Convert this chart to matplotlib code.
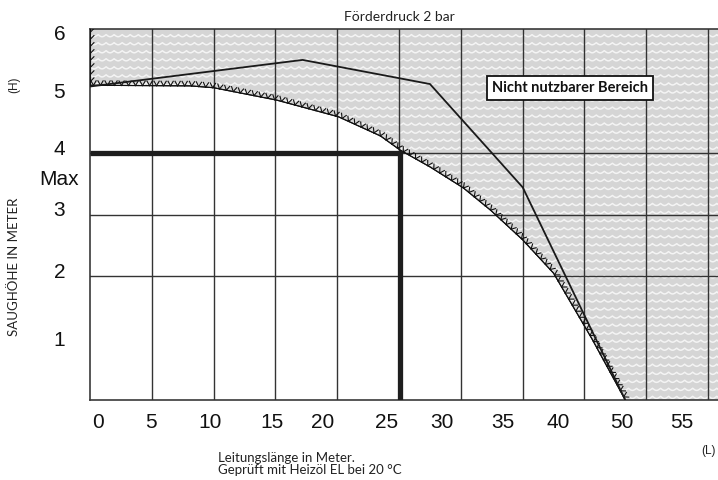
import matplotlib
matplotlib.use("Agg")
import matplotlib.pyplot as plt
import matplotlib.patheffects as pe
import numpy as np

# limit of the usable suction range (lower edge of the shaded area)
boundary_x = [0, 8.1, 10.0, 15.1, 20.1, 23.5, 25.1, 27.5, 30.2, 32.4, 35.0, 37.5, 40.6, 43.3]
boundary_y = [5.09, 5.08, 5.05, 4.85, 4.58, 4.27, 4.04, 3.77, 3.43, 3.07, 2.59, 2.05, 0.99, 0.0]

# pump curve at 2 bar supply pressure
pressure_x = [0, 17.2, 27.5, 35.0, 43.3]
pressure_y = [5.07, 5.5, 5.11, 3.44, 0.0]

# max suction height marker
max_height = 4.0
max_length = 25.1

grid_x = [5, 10, 15, 20, 25, 30, 35, 40, 45, 50]
grid_y = [1, 2, 3, 4, 5]

xtick_pos = [0.65, 4.95, 9.7, 14.7, 18.8, 24.0, 28.5, 33.4, 37.9, 43.0, 47.9]
xtick_labels = ["0", "5", "10", "15", "20", "25", "30", "35", "40", "50", "55"]
ytick_pos = [5.95, 5.0, 4.08, 3.6, 3.1, 2.09, 1.0]
ytick_labels = ["6", "5", "4", "Max", "3", "2", "1"]

XMAX = 50.8
YMAX = 6.0

W, H = 718, 480
fig = plt.figure(figsize=(W / 100, H / 100), dpi=100)
ax = fig.add_axes([90 / W, 80 / H, 628 / W, 371 / H])
ax.set_xlim(0, XMAX)
ax.set_ylim(0, YMAX)

# shaded "not usable" region
poly_x = [0, XMAX, XMAX] + boundary_x[::-1]
poly_y = [YMAX, YMAX, 0] + boundary_y[::-1]
region = ax.fill(poly_x, poly_y, color="#d5d5d5", lw=0, zorder=1)[0]

# white wave texture inside the region
wx = np.linspace(0, XMAX, 3000)
period = 0.65
for y0 in np.arange(0.06, YMAX, 0.13):
    wave = y0 - 0.035 * np.abs(np.sin(np.pi * wx / period))
    ln, = ax.plot(wx, wave, color="#f4f4f4", lw=1.1, zorder=1.5)
    ln.set_clip_path(region)

# grid
ax.set_xticks(grid_x, minor=True)
ax.set_yticks(grid_y, minor=True)
ax.grid(which="minor", color="#333333", lw=1.0, zorder=2)
ax.set_axisbelow(False)

ax.set_xticks(xtick_pos)
ax.set_xticklabels(xtick_labels)
ax.set_yticks(ytick_pos)
ax.set_yticklabels(ytick_labels)
ax.tick_params(which="both", length=0)
ax.tick_params(axis="x", pad=9, labelsize=15)
ax.tick_params(axis="y", pad=22, labelsize=15)
for lbl in ax.get_yticklabels():
    lbl.set_horizontalalignment("center")
for lbl in ax.get_xticklabels() + ax.get_yticklabels():
    lbl.set_fontfamily("Liberation Sans")
    lbl.set_color("#111111")

for side in ["top", "left", "bottom"]:
    ax.spines[side].set_color("#3a3a3a")
    ax.spines[side].set_linewidth(1.2)
ax.spines["right"].set_visible(False)

# hatched edge marks along the boundary (ticks only, no line)
tick_a = pe.withTickedStroke(angle=60, spacing=5, length=0.75, linewidth=0.8)
tick_b = pe.withTickedStroke(angle=120, spacing=5, length=0.75, linewidth=0.8)
ax.plot(boundary_x, boundary_y, color="#111111", lw=0.8, zorder=3,
        path_effects=[tick_a, tick_b])
ax.plot([0, 0], [YMAX, boundary_y[0]], color="#111111", lw=0.8, zorder=3,
        path_effects=[pe.withTickedStroke(angle=135, spacing=5, length=0.8, linewidth=0.8)])

# pressure curve
ax.plot(pressure_x, pressure_y, color="#1a1a1a", lw=1.3, zorder=4)

# max suction height lines
ax.plot([0, max_length], [max_height, max_height], color="#1e1e1e", lw=3.8,
        solid_capstyle="butt", zorder=5)
ax.plot([max_length, max_length], [0, max_height], color="#1e1e1e", lw=3.8,
        solid_capstyle="projecting", zorder=5)

ax.text(38.8, 5.05, "Nicht nutzbarer Bereich", ha="center", va="center",
        fontsize=10.5, fontweight="bold", family="Lato", color="#111111", zorder=6,
        bbox=dict(boxstyle="square,pad=0.35", fc="white", ec="#111111", lw=1.3))

# texts around the chart
fig.text(399 / W, 1 - 17 / H, "Förderdruck 2 bar", ha="center", va="center",
         fontsize=10, family="Lato", color="#222222")
fig.text(14 / W, 1 - 85 / H, "(H)", ha="center", va="center", rotation=90,
         fontsize=8.5, family="Liberation Sans", color="#222222")
fig.text(14 / W, 1 - 267 / H, "SAUGHÖHE IN METER", ha="center", va="center",
         rotation=90, fontsize=9.5, family="Lato", color="#222222")
fig.text(708 / W, 1 - 451 / H, "(L)", ha="center", va="center",
         fontsize=8.5, family="Liberation Sans", color="#222222")
fig.text(218 / W, 1 - 464 / H, "Leitungslänge in Meter.\nGeprüft mit Heizöl EL bei 20 °C",
         ha="left", va="center", fontsize=9.5, family="Lato", color="#222222",
         linespacing=1.0)

fig.savefig("out.png", dpi=100)
